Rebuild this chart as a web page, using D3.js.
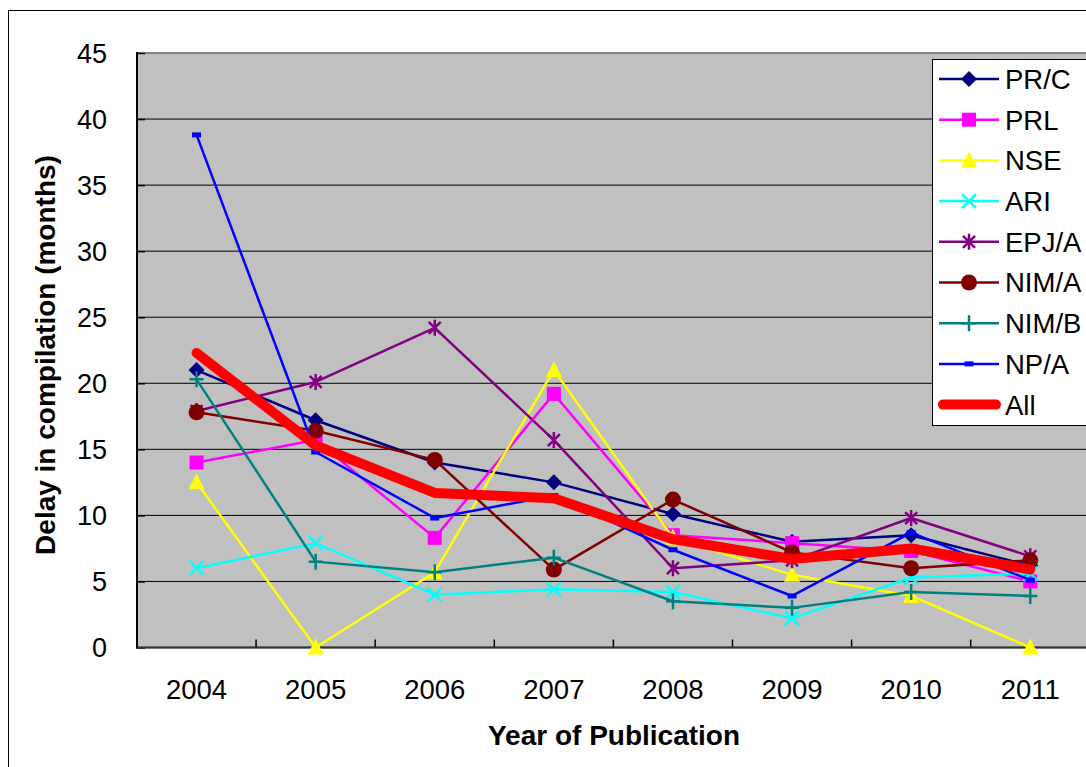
<!DOCTYPE html>
<html>
<head>
<meta charset="utf-8">
<script src="https://cdn.jsdelivr.net/npm/d3@7"></script>
<style>
  body { margin: 0; background: #fff; }
  svg { display: block; font-family: "Liberation Sans", Arial, sans-serif; }
</style>
</head>
<body>
<svg id="chart" width="1086" height="767"></svg>
<script>
// Categories and tick values
const years = ['2004', '2005', '2006', '2007', '2008', '2009', '2010', '2011'];
const yTicks = [0, 5, 10, 15, 20, 25, 30, 35, 40, 45];

// Series values (months)
const prc  = [21.0, 17.2, 14.0, 12.5, 10.1, 8.0, 8.5, 6.2];
const prl  = [14.0, 15.7, 8.3, 19.2, 8.5, 7.9, 7.3, 5.0];
const nse  = [12.5, 0.0, 5.7, 21.0, 8.3, 5.5, 3.9, 0.0];
const ari  = [6.0, 7.9, 4.0, 4.4, 4.2, 2.2, 5.3, 5.6];
const epja = [17.9, 20.1, 24.2, 15.7, 6.0, 6.6, 9.8, 6.9];
const nima = [17.8, 16.4, 14.2, 5.9, 11.2, 7.2, 6.0, 6.6];
const nimb = [20.3, 6.5, 5.7, 6.8, 3.5, 3.0, 4.2, 3.9];
const npa  = [38.8, 14.8, 9.8, 11.5, 7.4, 3.9, 8.7, 5.1];
const all  = [22.3, 15.3, 11.7, 11.3, 8.2, 6.7, 7.5, 5.9];

const seriesNames = ['PR/C', 'PRL', 'NSE', 'ARI', 'EPJ/A', 'NIM/A', 'NIM/B', 'NP/A', 'All'];
const seriesValues = [prc, prl, nse, ari, epja, nima, nimb, npa, all];
const seriesColors = ['#000080', '#FF00FF', '#FFFF00', '#00FFFF', '#800080', '#800000', '#008080', '#0000FF', '#FF0000'];
const seriesMarkers = ['diamond', 'square', 'triangle', 'x', 'star', 'circle', 'plus', 'bar', 'none'];

const series = seriesNames.map((name, i) => ({
  name,
  values: seriesValues[i],
  color: seriesColors[i],
  marker: seriesMarkers[i],
  width: name === 'All' ? 10 : 2.5
}));

const svg = d3.select('#chart');

// Outer chart frame
svg.append('rect')
  .attr('x', 8.5).attr('y', 10.5)
  .attr('width', 1100).attr('height', 800)
  .attr('fill', '#fff').attr('stroke', '#000').attr('stroke-width', 1);

const margin = { left: 137, top: 53 };
const plotW = 8 * 119.1;
const plotH = 594.5;

const x = d3.scaleBand().domain(years).range([0, plotW]);
const y = d3.scaleLinear().domain([0, 45]).range([plotH, 0]);

const g = svg.append('g').attr('transform', `translate(${margin.left},${margin.top})`);

// Plot area
g.append('rect')
  .attr('width', plotW).attr('height', plotH)
  .attr('fill', '#C0C0C0').attr('stroke', '#808080').attr('stroke-width', 2);

// Gridlines
g.selectAll('.grid')
  .data(yTicks.filter(d => d > 0 && d < 45))
  .enter().append('line')
  .attr('x1', 0).attr('x2', plotW)
  .attr('y1', d => y(d)).attr('y2', d => y(d))
  .attr('stroke', '#000').attr('stroke-width', 1);

// Y axis (ticks inside)
const yAxis = g.append('g')
  .call(d3.axisRight(y).tickValues(yTicks).tickSize(8).tickFormat(''));
yAxis.select('.domain').remove();
yAxis.selectAll('line').attr('stroke', '#000').attr('stroke-width', 1.5);
g.append('line')
  .attr('x1', 0).attr('x2', 0).attr('y1', -1).attr('y2', plotH + 1)
  .attr('stroke', '#000').attr('stroke-width', 2);

g.selectAll('.ylab')
  .data(yTicks)
  .enter().append('text')
  .attr('x', -30).attr('y', d => y(d))
  .attr('dy', '0.36em')
  .attr('text-anchor', 'end')
  .attr('font-size', 27)
  .text(d => d);

// X axis (ticks inside, at category boundaries)
const bounds = years.slice(1).map(d => x(d));
g.selectAll('.xtick')
  .data(bounds)
  .enter().append('line')
  .attr('x1', d => d).attr('x2', d => d)
  .attr('y1', plotH - 8).attr('y2', plotH)
  .attr('stroke', '#000').attr('stroke-width', 1.5);
g.append('line')
  .attr('x1', 0).attr('x2', plotW).attr('y1', plotH).attr('y2', plotH)
  .attr('stroke', '#333').attr('stroke-width', 2);

g.selectAll('.xlab')
  .data(years)
  .enter().append('text')
  .attr('x', d => x(d) + x.bandwidth() / 2)
  .attr('y', plotH + 51)
  .attr('text-anchor', 'middle')
  .attr('font-size', 27.5)
  .text(d => d);

// Axis titles
svg.append('text')
  .attr('x', 614).attr('y', 745)
  .attr('text-anchor', 'middle')
  .attr('font-size', 28).attr('font-weight', 'bold')
  .text('Year of Publication');

svg.append('text')
  .attr('transform', 'translate(55,355) rotate(-90)')
  .attr('text-anchor', 'middle')
  .attr('font-size', 28).attr('font-weight', 'bold')
  .text('Delay in compilation (months)');

// Marker drawing
function drawMarker(sel, type, color) {
  if (type === 'diamond') {
    sel.append('path').attr('d', 'M0,-8L8,0L0,8L-8,0Z').attr('fill', color);
  } else if (type === 'square') {
    sel.append('rect').attr('x', -7).attr('y', -7).attr('width', 14).attr('height', 14).attr('fill', color);
  } else if (type === 'triangle') {
    sel.append('path').attr('d', 'M0,-9L8,7L-8,7Z').attr('fill', color);
  } else if (type === 'x') {
    sel.append('path').attr('d', 'M-7,-7L7,7M-7,7L7,-7').attr('stroke', color).attr('stroke-width', 2.5).attr('fill', 'none');
  } else if (type === 'star') {
    sel.append('path').attr('d', 'M-6,-6L6,6M-6,6L6,-6M0,-8L0,8').attr('stroke', color).attr('stroke-width', 2.5).attr('fill', 'none');
  } else if (type === 'circle') {
    sel.append('circle').attr('r', 8).attr('fill', color);
  } else if (type === 'plus') {
    sel.append('path').attr('d', 'M-7,0L7,0M0,-8L0,8').attr('stroke', color).attr('stroke-width', 2.5).attr('fill', 'none');
  } else if (type === 'bar') {
    sel.append('rect').attr('x', -4.5).attr('y', -2.5).attr('width', 9).attr('height', 5).attr('fill', color);
  }
}

const line = d3.line()
  .x((d, i) => x(years[i]) + x.bandwidth() / 2)
  .y(d => y(d));

series.forEach(s => {
  const sg = g.append('g');
  sg.append('path')
    .attr('d', line(s.values))
    .attr('fill', 'none')
    .attr('stroke', s.color)
    .attr('stroke-width', s.width)
    .attr('stroke-linejoin', 'round')
    .attr('stroke-linecap', s.name === 'All' ? 'round' : 'butt');
  s.values.forEach((v, i) => {
    const m = sg.append('g')
      .attr('transform', `translate(${x(years[i]) + x.bandwidth() / 2},${y(v)})`);
    drawMarker(m, s.marker, s.color);
  });
});

// Legend
const legend = svg.append('g').attr('transform', 'translate(932,59)');
legend.append('rect')
  .attr('x', 0.5).attr('y', 0.5)
  .attr('width', 200).attr('height', 366)
  .attr('fill', '#fff').attr('stroke', '#000').attr('stroke-width', 1);

series.forEach((s, i) => {
  const ly = 20 + i * 40.7;
  const item = legend.append('g').attr('transform', `translate(0,${ly})`);
  item.append('line')
    .attr('x1', s.name === 'All' ? 11 : 7).attr('x2', s.name === 'All' ? 64 : 67)
    .attr('y1', 0).attr('y2', 0)
    .attr('stroke', s.color).attr('stroke-width', s.width)
    .attr('stroke-linecap', s.name === 'All' ? 'round' : 'butt');
  const m = item.append('g').attr('transform', 'translate(37,0)');
  drawMarker(m, s.marker, s.color);
  item.append('text')
    .attr('x', 73).attr('y', 0).attr('dy', '0.36em')
    .attr('font-size', 27.5)
    .text(s.name);
});
</script>
</body>
</html>
